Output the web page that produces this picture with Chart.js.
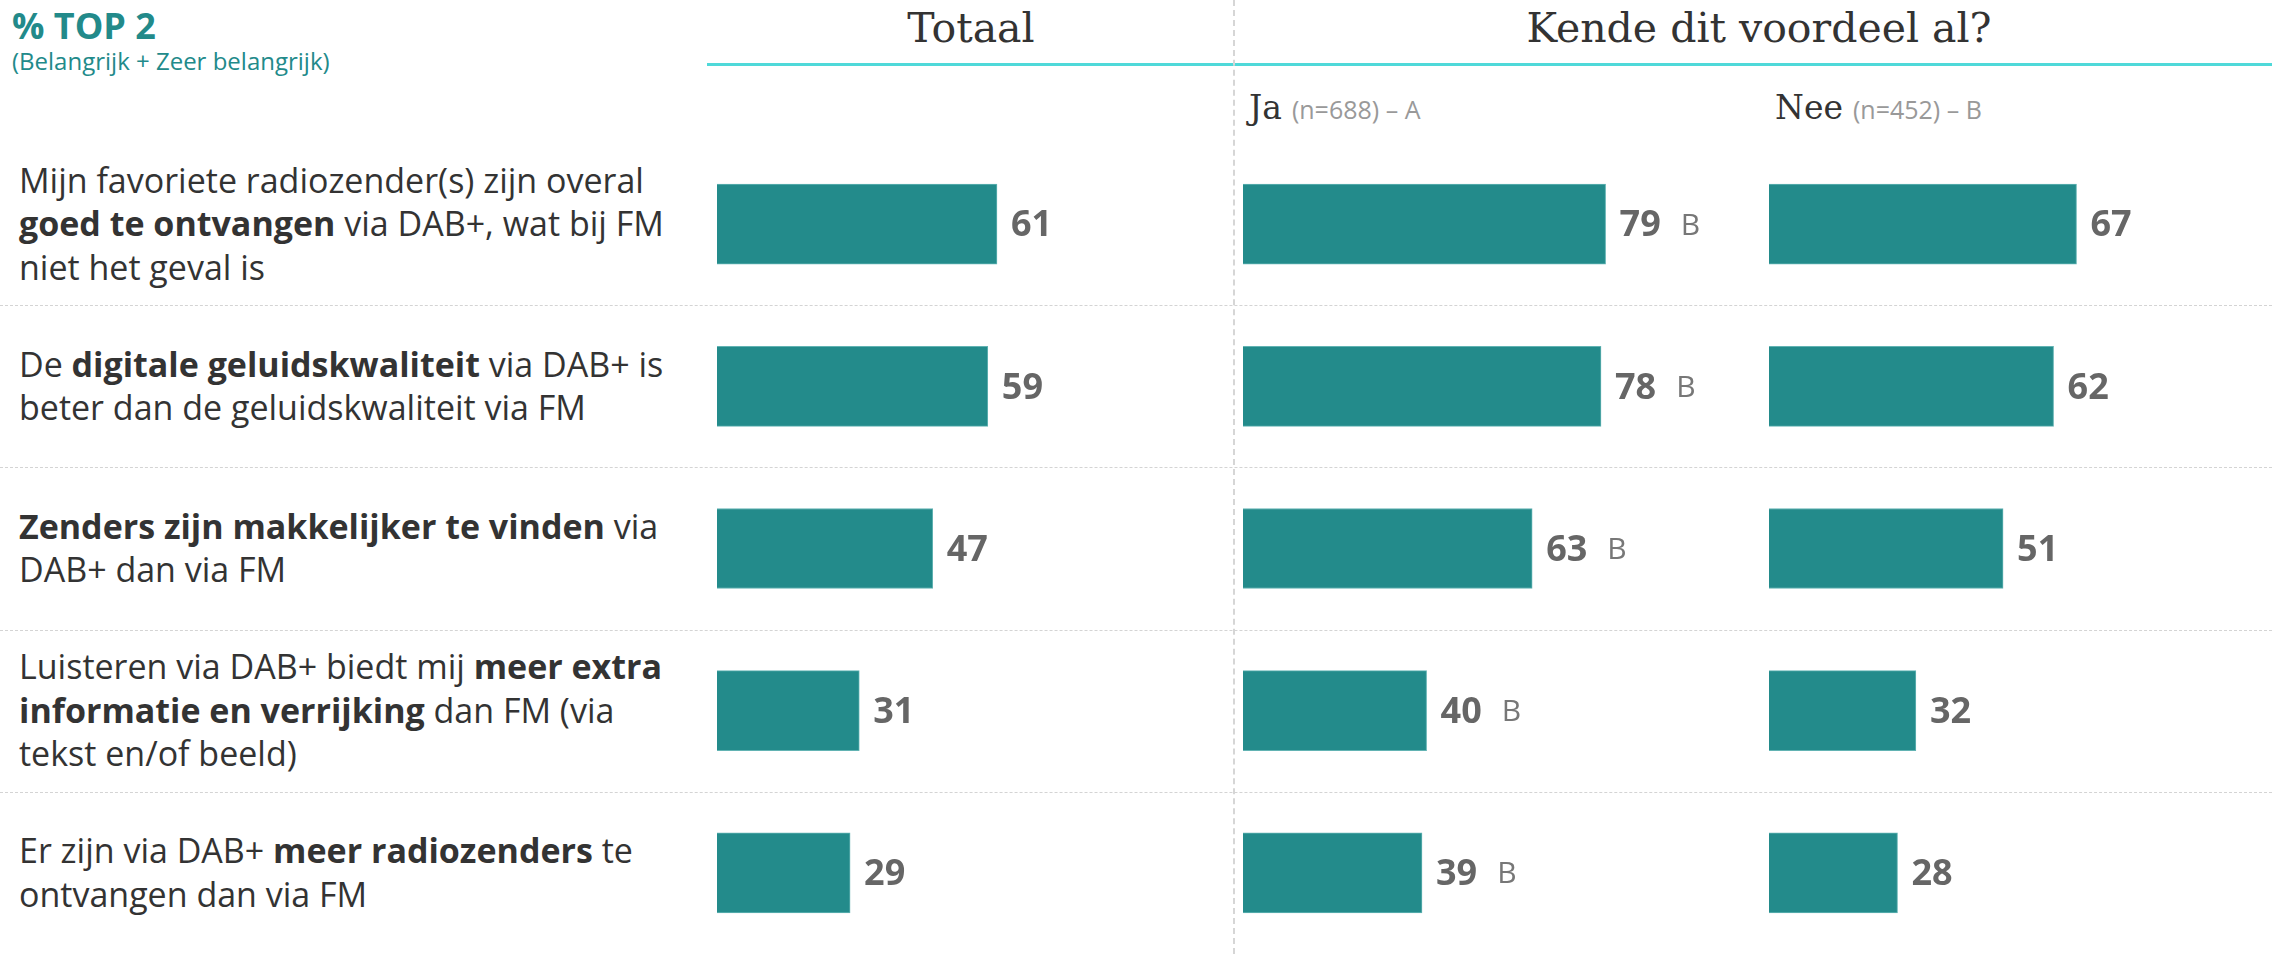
<!DOCTYPE html>
<html lang="nl">
<head>
  <meta charset="UTF-8" />
  <title>DAB+ voordelen - % top 2</title>
  <script src="https://cdn.jsdelivr.net/npm/chart.js"></script>
  <style>
    html, body { margin: 0; padding: 0; background: #fff; }
    #page { position: relative; width: 2272px; height: 954px; overflow: hidden; font-family: "Open Sans", sans-serif; }
    .abs { position: absolute; }
    .top2 { left: 12px; top: 1px; font-size: 36px; font-weight: 700; color: #228a8a; }
    .top2sub { left: 12px; top: 44px; font-size: 24px; color: #228a8a; }
    .head { top: 4px; font-family: "DejaVu Serif", serif; font-size: 41px; color: #333; transform: translateX(-50%); white-space: nowrap; }
    .headline { left: 707px; top: 63px; width: 1565px; height: 3px; background: #4fd9d9; }
    .sub { top: 88px; font-family: "DejaVu Serif", serif; font-size: 33px; color: #333; white-space: nowrap; }
    .sub span { font-family: "Open Sans", sans-serif; font-size: 25px; color: #999; margin-left: 10px; }
    .vline { left: 1233px; top: 0; height: 954px; width: 0; border-left: 2px dashed #d6d6d6; }
    .divider { left: 0; width: 2272px; height: 0; border-top: 1px dashed #d4d4d4; }
    .row { left: 19px; width: 690px; display: flex; align-items: center; font-size: 34px; line-height: 43.5px; color: #333; white-space: nowrap; }
    .row b { font-weight: 700; }
    .panel { position: absolute; top: 0; height: 954px; }
  </style>
</head>
<body>
  <div id="page">
    <div class="abs top2">% TOP 2</div>
    <div class="abs top2sub">(Belangrijk + Zeer belangrijk)</div>
    <div class="abs headline"></div>
    <div class="abs vline"></div>
    <div id="headers"></div>
    <div id="rows"></div>
    <div class="panel" id="p0"><canvas id="c0"></canvas></div>
    <div class="panel" id="p1"><canvas id="c1"></canvas></div>
    <div class="panel" id="p2"><canvas id="c2"></canvas></div>
  </div>

  <script>
    // statements (bold parts in <b>, line breaks as in the report)
    const categories = [
      'Mijn favoriete radiozender(s) zijn overal<br><b>goed te ontvangen</b> via DAB+, wat bij FM<br>niet het geval is',
      'De <b>digitale geluidskwaliteit</b> via DAB+ is<br>beter dan de geluidskwaliteit via FM',
      '<b>Zenders zijn makkelijker te vinden</b> via<br>DAB+ dan via FM',
      'Luisteren via DAB+ biedt mij <b>meer extra</b><br><b>informatie en verrijking</b> dan FM (via<br>tekst en/of beeld)',
      'Er zijn via DAB+ <b>meer radiozenders</b> te<br>ontvangen dan via FM'
    ];

    const totaal = [61, 59, 47, 31, 29];
    const ja = [79, 78, 63, 40, 39];
    const nee = [67, 62, 51, 32, 28];
    const jaSig = ['B', 'B', 'B', 'B', 'B'];
    const neeSig = ['', '', '', '', ''];
    const noSig = ['', '', '', '', ''];

    const groupTitles = ['Totaal', 'Kende dit voordeel al?'];
    const subTitles = [['Ja', '(n=688) – A'], ['Nee', '(n=452) – B']];

    // layout
    const TOP = 143, BOTTOM = 954;
    const ROW_H = (BOTTOM - TOP) / categories.length;
    const UNIT_W = 459; // px for 0..100
    const panels = [
      { left: 717, width: 516, data: totaal, sig: noSig },
      { left: 1243, width: 526, data: ja, sig: jaSig },
      { left: 1769, width: 503, data: nee, sig: neeSig }
    ];

    // headers
    const headers = document.getElementById('headers');
    [[971, groupTitles[0]], [1759, groupTitles[1]]].forEach(([x, t]) => {
      const d = document.createElement('div');
      d.className = 'abs head';
      d.style.left = x + 'px';
      d.textContent = t;
      headers.appendChild(d);
    });
    [[1249, subTitles[0]], [1775, subTitles[1]]].forEach(([x, t]) => {
      const d = document.createElement('div');
      d.className = 'abs sub';
      d.style.left = x + 'px';
      d.innerHTML = t[0] + '<span>' + t[1] + '</span>';
      headers.appendChild(d);
    });

    // row labels and dividers
    const rows = document.getElementById('rows');
    categories.forEach((c, i) => {
      const r = document.createElement('div');
      r.className = 'abs row';
      r.style.top = (TOP + i * ROW_H) + 'px';
      r.style.height = ROW_H + 'px';
      r.innerHTML = '<div>' + c + '</div>';
      rows.appendChild(r);
      if (i > 0) {
        const d = document.createElement('div');
        d.className = 'abs divider';
        d.style.top = Math.round(TOP + i * ROW_H) + 'px';
        rows.appendChild(d);
      }
    });

    // value labels next to bars
    const valueLabels = {
      id: 'valueLabels',
      afterDatasetsDraw(chart, args, opts) {
        const ctx = chart.ctx;
        const meta = chart.getDatasetMeta(0);
        const ds = chart.data.datasets[0];
        ctx.save();
        ctx.textBaseline = 'middle';
        meta.data.forEach((bar, i) => {
          const x = bar.x + 14;
          ctx.font = 'bold 36px "Open Sans"';
          ctx.fillStyle = '#666';
          const txt = String(ds.data[i]);
          ctx.fillText(txt, x, bar.y + 2);
          const s = opts.sig[i];
          if (s) {
            const w = ctx.measureText(txt).width;
            ctx.font = '30px "Open Sans"';
            ctx.fillStyle = '#777';
            ctx.fillText(s, x + w + 20, bar.y + 2);
          }
        });
        ctx.restore();
      }
    };

    panels.forEach((p, k) => {
      const box = document.getElementById('p' + k);
      box.style.left = p.left + 'px';
      box.style.width = p.width + 'px';
      new Chart(document.getElementById('c' + k), {
        type: 'bar',
        data: {
          labels: categories.map((_, i) => 'r' + i),
          datasets: [{
            data: p.data,
            backgroundColor: '#238b8b',
            borderColor: '#62b3b3',
            borderWidth: 1,
            barThickness: 80
          }]
        },
        options: {
          indexAxis: 'y',
          responsive: true,
          maintainAspectRatio: false,
          animation: false,
          layout: { padding: { left: 0, right: p.width - UNIT_W, top: TOP, bottom: 0 } },
          scales: {
            x: { min: 0, max: 100, display: false },
            y: { display: false }
          },
          plugins: {
            legend: { display: false },
            tooltip: { enabled: false },
            valueLabels: { sig: p.sig }
          }
        },
        plugins: [valueLabels]
      });
    });
  </script>
</body>
</html>
